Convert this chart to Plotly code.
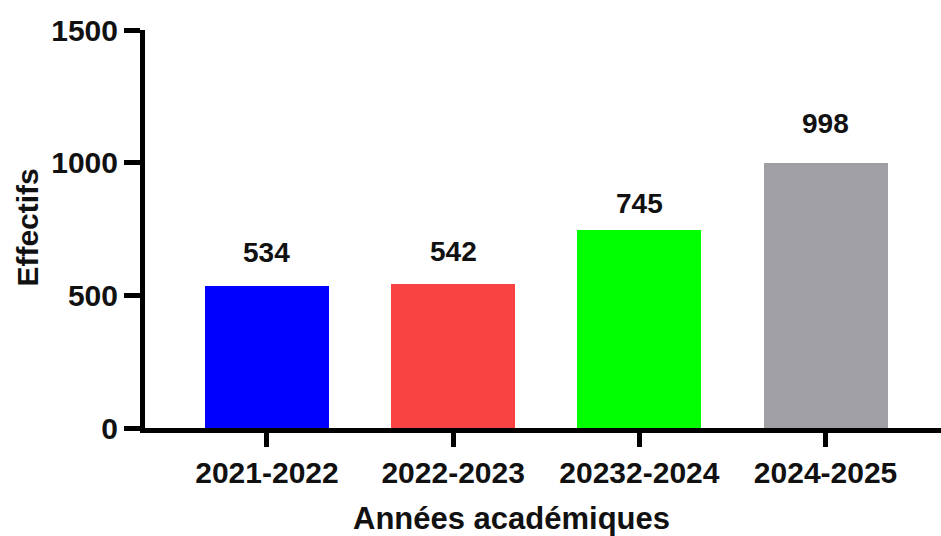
import plotly.graph_objects as go

categories = ["2021-2022", "2022-2023", "20232-2024", "2024-2025"]
effectifs = [534, 542, 745, 998]
bar_colors = ["#0000FF", "#F94343", "#00FF00", "#A09FA4"]
y_ticks = [0, 500, 1000, 1500]
x_title = "Années académiques"
y_title = "Effectifs"

FONT = "Liberation Sans, Arial, Helvetica, sans-serif"
LABEL_SHIFTS = [34, 32.5, 26.5, 40]  # pixel offsets of value labels above bars

W, H = 941, 536
L, T = 144.5, 30
BOTTOM = 428
B = H - BOTTOM

fig = go.Figure()
fig.add_trace(go.Bar(
    x=list(range(len(categories))),
    y=effectifs,
    width=0.666,
    marker=dict(color=bar_colors, line=dict(width=0)),
    hoverinfo="skip",
))

for i, v in enumerate(effectifs):
    fig.add_annotation(
        x=i, y=v, xref="x", yref="y", text=str(v), showarrow=False,
        yanchor="middle", yshift=LABEL_SHIFTS[i],
        font=dict(family=FONT, size=28, color="#111111", weight="bold"),
    )

pw, ph = W - L, BOTTOM - T
fig.add_annotation(
    x=(511 - L) / pw, y=-(518 - BOTTOM) / ph,
    xref="paper", yref="paper", text=x_title, showarrow=False,
    xanchor="center", yanchor="middle",
    font=dict(family=FONT, size=31, color="#111111", weight="bold"),
)
fig.add_annotation(
    x=-(L - 26) / pw, y=(BOTTOM - 228) / ph,
    xref="paper", yref="paper", text=y_title, showarrow=False, textangle=-90,
    xanchor="center", yanchor="middle",
    font=dict(family=FONT, size=30, color="#111111", weight="bold"),
)

fig.update_layout(
    width=W, height=H,
    margin=dict(l=L, r=0, t=T, b=B),
    paper_bgcolor="white", plot_bgcolor="white",
    showlegend=False,
    bargap=0,
)

fig.update_xaxes(
    range=[-0.655, 3.620],
    tickmode="array", tickvals=list(range(len(categories))), ticktext=categories,
    showline=True, linecolor="black", linewidth=5,
    ticks="outside", ticklen=14, tickwidth=5, tickcolor="black",
    tickfont=dict(family=FONT, size=30, color="#111111", weight="bold"),
    showgrid=False, zeroline=False, fixedrange=True,
)
fig.update_yaxes(
    range=[0, 1500],
    tickmode="array", tickvals=y_ticks, ticktext=[str(t) for t in y_ticks],
    showline=True, linecolor="black", linewidth=5,
    ticks="outside", ticklen=16, tickwidth=5, tickcolor="black",
    tickfont=dict(family=FONT, size=30, color="#111111", weight="bold"),
    showgrid=False, zeroline=False, fixedrange=True,
)

fig.write_html(
    "out.html",
    config={"displayModeBar": False},
    post_script="document.body.style.margin='0';document.body.style.overflow='hidden';",
)
